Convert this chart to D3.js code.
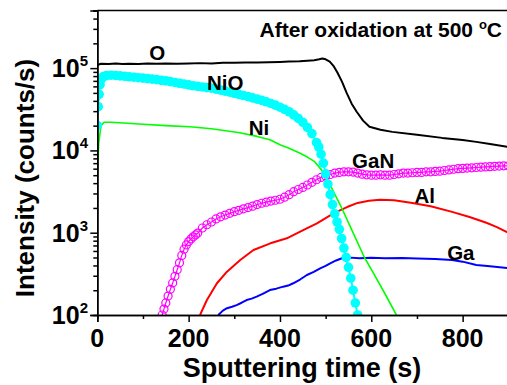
<!DOCTYPE html>
<html>
<head>
<meta charset="utf-8">
<script src="https://cdn.jsdelivr.net/npm/d3@7"></script>
<style>
  body { margin: 0; background: #fff; }
  svg { display: block; font-family: "Liberation Sans", Arial, sans-serif; font-weight: bold; }
</style>
</head>
<body>
<svg id="chart" width="507" height="385"></svg>
<script>
// ------------------------------------
// Depth profile data [time (s), counts/s]
// ------------------------------------
const seriesO = [
  [0, 1.09e5], [8, 1.13e5], [25, 1.12e5], [40, 1.14e5], [55, 1.12e5], [70, 1.13e5],
  [90, 1.12e5], [110, 1.14e5], [130, 1.13e5], [150, 1.14e5], [175, 1.13e5], [200, 1.14e5],
  [225, 1.15e5], [250, 1.14e5], [275, 1.16e5], [300, 1.16e5], [325, 1.17e5], [350, 1.17e5],
  [375, 1.18e5], [400, 1.19e5], [420, 1.2e5], [443, 1.21e5], [460, 1.23e5], [475, 1.25e5],
  [486, 1.28e5], [493, 1.31e5], [500, 1.28e5], [509, 1.2e5], [518, 1.05e5], [526, 8.8e4],
  [536, 6.8e4], [546, 5.0e4], [557, 3.7e4], [568, 2.95e4], [582, 2.3e4], [596, 1.94e4],
  [620, 1.78e4], [646, 1.68e4], [700, 1.55e4], [755, 1.42e4], [800, 1.34e4], [830, 1.27e4],
  [860, 1.2e4], [900, 1.1e4]
];

const seriesNiO = [
  [0, 2.0e4], [2, 3.4e4], [4, 4.8e4], [6, 6.3e4], [9, 7.4e4], [13, 7.9e4], [20, 8.1e4],
  [30, 8.2e4], [40, 8.15e4], [50, 8.05e4], [60, 7.95e4], [70, 7.85e4], [80, 7.75e4],
  [90, 7.65e4], [100, 7.55e4], [110, 7.45e4], [120, 7.35e4], [130, 7.25e4], [140, 7.1e4],
  [150, 7.0e4], [160, 6.85e4], [170, 6.7e4], [180, 6.55e4], [190, 6.4e4], [200, 6.25e4],
  [210, 6.1e4], [220, 6.0e4], [230, 5.9e4], [240, 5.8e4], [250, 5.7e4], [260, 5.55e4],
  [270, 5.4e4], [280, 5.25e4], [290, 5.1e4], [300, 4.95e4], [310, 4.8e4], [320, 4.65e4],
  [330, 4.5e4], [340, 4.35e4], [350, 4.2e4], [360, 4.05e4], [370, 3.9e4], [380, 3.72e4],
  [390, 3.55e4], [400, 3.35e4], [410, 3.15e4], [420, 2.95e4], [430, 2.7e4], [440, 2.45e4],
  [450, 2.2e4], [460, 1.9e4], [470, 1.6e4], [480, 1.25e4], [485, 1.1e4], [490, 9.0e3],
  [495, 7.0e3], [500, 5.2e3], [505, 3.9e3], [510, 2.9e3], [515, 2.2e3], [520, 1.7e3],
  [525, 1.35e3], [530, 1.1e3], [535, 850], [540, 650], [545, 500], [550, 380],
  [555, 280], [560, 200], [565, 140], [570, 100]
];

const seriesNi = [
  [0, 4.4e3], [3, 1.2e4], [8, 2.0e4], [15, 2.2e4], [30, 2.2e4], [57, 2.15e4], [100, 2.08e4],
  [150, 2.0e4], [203, 1.94e4], [250, 1.83e4], [312, 1.64e4], [350, 1.48e4], [378, 1.35e4],
  [400, 1.17e4], [420, 1.06e4], [443, 9.3e3], [460, 8.3e3], [476, 7.3e3], [491, 5.8e3],
  [500, 4.8e3], [513, 3.5e3], [525, 2.6e3], [537, 1.9e3], [560, 1.0e3], [585, 500],
  [605, 320], [629, 185], [655, 100]
];

const seriesGaN = [
  [142, 100], [146, 118], [150, 140], [155, 170], [160, 205], [165, 245], [170, 295],
  [175, 355], [180, 430], [185, 530], [190, 630], [195, 710], [200, 780], [205, 840],
  [210, 890], [215, 940], [220, 990], [230, 1.14e3], [240, 1.25e3], [250, 1.35e3],
  [260, 1.47e3], [270, 1.56e3], [280, 1.64e3], [290, 1.72e3], [300, 1.8e3], [310, 1.87e3],
  [320, 1.95e3], [330, 2.02e3], [340, 2.1e3], [350, 2.2e3], [360, 2.28e3], [370, 2.35e3],
  [380, 2.42e3], [390, 2.48e3], [400, 2.55e3], [410, 2.7e3], [420, 2.9e3], [430, 3.15e3],
  [440, 3.35e3], [450, 3.55e3], [460, 3.8e3], [470, 4.1e3], [480, 4.4e3], [490, 4.7e3],
  [500, 4.9e3], [510, 5.1e3], [520, 5.3e3], [530, 5.4e3], [540, 5.5e3], [550, 5.5e3],
  [560, 5.45e3], [570, 5.3e3], [580, 5.15e3], [590, 5.05e3], [600, 5.0e3], [610, 5.0e3],
  [620, 5.05e3], [630, 5.0e3], [640, 5.0e3], [650, 5.1e3], [660, 5.2e3], [670, 5.3e3],
  [680, 5.3e3], [690, 5.35e3], [700, 5.4e3], [710, 5.4e3], [720, 5.5e3], [730, 5.5e3],
  [740, 5.55e3], [750, 5.6e3], [760, 5.7e3], [770, 5.8e3], [780, 5.9e3], [790, 6.0e3],
  [800, 6.05e3], [810, 6.1e3], [820, 6.15e3], [830, 6.2e3], [840, 6.25e3], [850, 6.3e3],
  [860, 6.35e3], [870, 6.4e3], [880, 6.45e3], [890, 6.5e3], [900, 6.5e3]
];

const seriesAl = [
  [225, 100], [240, 152], [262, 243], [284, 336], [313, 466], [342, 617], [379, 743],
  [415, 855], [452, 1080], [481, 1300], [510, 1620], [530, 1850], [547, 2.05e3],
  [570, 2.3e3], [595, 2.45e3], [619, 2.51e3], [650, 2.48e3], [690, 2.3e3], [730, 2.1e3],
  [777, 1.79e3], [815, 1.55e3], [852, 1.32e3], [875, 1.17e3], [900, 1.0e3]
];

const seriesGa = [
  [265, 100], [275, 113], [284, 121], [295, 126], [305, 132], [316, 141], [327, 152],
  [338, 158], [349, 167], [362, 181], [378, 201], [392, 209], [407, 221], [418, 228],
  [429, 243], [444, 270], [459, 306], [474, 334], [488, 369], [500, 395], [510, 425],
  [523, 460], [537, 493], [555, 498], [574, 490], [600, 495], [630, 490], [668, 493],
  [700, 487], [740, 480], [777, 467], [800, 445], [830, 406], [860, 392], [900, 370]
];

const xTicks = [0, 200, 400, 600, 800];
const yTicks = [2, 3, 4, 5];

// label text and anchor positions (baseline) in data units
const labels = [
  { text: "O", t: 131, v: 1.25e5 },
  { text: "NiO", t: 280, v: 5.4e4 },
  { text: "Ni", t: 354, v: 1.54e4 },
  { text: "GaN", t: 604, v: 6.1e3 },
  { text: "Al", t: 717, v: 2.3e3 },
  { text: "Ga", t: 796, v: 466 }
];

// ------------------------------------
// Layout
// ------------------------------------
const svg = d3.select("#chart");
const plotLeft = 97.3, plotRight = 508.3, plotTop = 10.6, plotBottom = 315;

const x = d3.scaleLinear().domain([0, 900]).range([plotLeft, plotRight]);
const y = d3.scaleLog().domain([100, 5e5]).range([plotBottom, plotTop]);

svg.append("defs").append("clipPath").attr("id", "plotClip")
  .append("rect")
  .attr("x", plotLeft).attr("y", plotTop)
  .attr("width", plotRight - plotLeft).attr("height", plotBottom - plotTop);

const plot = svg.append("g").attr("clip-path", "url(#plotClip)");

const line = d3.line()
  .x(d => x(d[0]))
  .y(d => y(d[1]));

// Lines
function drawLine(data, color, width) {
  plot.append("path")
    .datum(data)
    .attr("fill", "none")
    .attr("stroke", color)
    .attr("stroke-width", width)
    .attr("stroke-linejoin", "round")
    .attr("d", line);
}

drawLine(seriesAl, "#ff0000", 2);
drawLine(seriesGa, "#0000ff", 2);

// GaN open circles
drawLine(seriesGaN, "#ff00ff", 1.2);
plot.append("g").selectAll("circle")
  .data(seriesGaN)
  .join("circle")
  .attr("cx", d => x(d[0]))
  .attr("cy", d => y(d[1]))
  .attr("r", 4)
  .attr("fill", "none")
  .attr("stroke", "#ff00ff")
  .attr("stroke-width", 1.2);

drawLine(seriesNi, "#00ff00", 1.6);

// NiO filled circles
drawLine(seriesNiO, "#00ffff", 2);
plot.append("g").selectAll("circle")
  .data(seriesNiO)
  .join("circle")
  .attr("cx", d => x(d[0]))
  .attr("cy", d => y(d[1]))
  .attr("r", 4.8)
  .attr("fill", "#00ffff");

drawLine(seriesO, "#000000", 2);

// ------------------------------------
// Axes
// ------------------------------------
const minorY = [];
for (let e = 2; e <= 5; e++) {
  for (let m = 2; m <= 9; m++) {
    const v = m * Math.pow(10, e);
    if (v <= 5e5) minorY.push(v);
  }
}

// frame top line
svg.append("line")
  .attr("x1", plotLeft).attr("x2", 507)
  .attr("y1", plotTop).attr("y2", plotTop)
  .attr("stroke", "#000").attr("stroke-width", 1.5);

// Y axis
const yAxisG = svg.append("g").attr("transform", `translate(${plotLeft},0)`);
yAxisG.append("g")
  .call(d3.axisLeft(y).tickValues(minorY).tickSize(4).tickFormat(""));
yAxisG.append("g")
  .call(d3.axisLeft(y).tickValues(yTicks.map(e => Math.pow(10, e))).tickSize(7).tickFormat(""));
yAxisG.selectAll("path, line").attr("stroke", "#000").attr("stroke-width", 1.5);

const yLab = svg.append("g")
  .selectAll("text")
  .data(yTicks)
  .join("text")
  .attr("x", 88)
  .attr("y", e => y(Math.pow(10, e)) + 9)
  .attr("text-anchor", "end")
  .style("font-size", "25px");
yLab.append("tspan").text("10");
yLab.append("tspan")
  .attr("dy", -11)
  .style("font-size", "15px")
  .text(e => e);

// X axis
const xAxisG = svg.append("g").attr("transform", `translate(0,${plotBottom})`);
xAxisG.append("g")
  .call(d3.axisBottom(x).tickValues(d3.range(100, 901, 200)).tickSize(4).tickFormat(""));
xAxisG.append("g")
  .call(d3.axisBottom(x).tickValues(xTicks).tickSize(7).tickFormat(""));
xAxisG.selectAll("path, line").attr("stroke", "#000").attr("stroke-width", 1.5);

svg.append("g")
  .selectAll("text")
  .data(xTicks)
  .join("text")
  .attr("x", d => x(d))
  .attr("y", 347)
  .attr("text-anchor", "middle")
  .style("font-size", "25px")
  .text(d => d);

// Axis titles
svg.append("text")
  .attr("x", 302)
  .attr("y", 377)
  .attr("text-anchor", "middle")
  .style("font-size", "27px")
  .text("Sputtering time (s)");

svg.append("text")
  .attr("transform", "translate(34,178) rotate(-90)")
  .attr("text-anchor", "middle")
  .style("font-size", "26px")
  .text("Intensity (counts/s)");

// ------------------------------------
// Series labels + title
// ------------------------------------
svg.append("g")
  .selectAll("text")
  .data(labels)
  .join("text")
  .attr("x", d => x(d.t))
  .attr("y", d => y(d.v))
  .attr("text-anchor", "middle")
  .style("font-size", "20.5px")
  .text(d => d.text);

const title = svg.append("text")
  .attr("x", 502)
  .attr("y", 37)
  .attr("text-anchor", "end")
  .style("font-size", "21px");
title.append("tspan").text("After oxidation at 500 ");
title.append("tspan").attr("dy", -8).style("font-size", "13px").text("o");
title.append("tspan").attr("dy", 8).text("C");
</script>
</body>
</html>
